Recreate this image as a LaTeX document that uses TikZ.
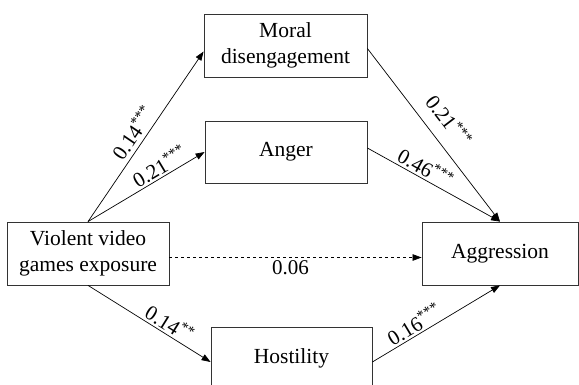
\documentclass[tikz,border=0pt]{standalone}
\usepackage{fontspec}
\setmainfont{Liberation Serif}
\usetikzlibrary{arrows.meta}
\tikzset{
  box/.style={draw=black!80, line width=0.8pt, fill=white, align=center, inner sep=0pt, font=\fontsize{21.5}{26}\selectfont},
  link/.style={draw=black, line width=0.7pt, -{Triangle[length=9pt,width=6.5pt]}},
  coef/.style={font=\fontsize{21}{24}\selectfont, sloped, above, inner sep=2pt}
}
\newcommand{\sig}[1]{\textsuperscript{#1}}
\begin{document}
\begin{tikzpicture}[x=1pt,y=-1pt]
\useasboundingbox (0,0) rectangle (579,385);
\clip (0,0) rectangle (579,385);
\node[box, minimum width=163pt, minimum height=63pt] (moral) at (285.5,45.5) {Moral\\disengagement};
\node[box, minimum width=162pt, minimum height=62pt] (anger) at (286,152) {Anger};
\node[box, minimum width=162pt, minimum height=63pt] (viol) at (88,253.5) {Violent video\\games exposure};
\node[box, minimum width=156pt, minimum height=63pt] (aggr) at (500,253.5) {Aggression};
\node[box, minimum width=161pt, minimum height=63pt] (host) at (291.5,358.5) {Hostility};

\draw[link] (viol.north) -- node[coef, pos=0.48, inner sep=4pt] {0.14\sig{***}} ([yshift=-6pt]moral.west);
\draw[link] (viol.north) -- node[coef, pos=0.66] {0.21\sig{***}} (anger.west);
\draw[link] ([yshift=-3pt]moral.east) -- node[coef, pos=0.49, inner sep=12pt] {0.21\sig{***}} (aggr.north);
\draw[link] ([yshift=4pt]anger.east) -- node[coef, pos=0.4] {0.46\sig{***}} (aggr.north);
\draw[link, dashed] ([yshift=-4pt]viol.east) -- node[font=\fontsize{21}{24}\selectfont, below, pos=0.48, inner sep=3pt] {0.06} ([yshift=-4pt]aggr.west);
\draw[link] (viol.south) -- node[coef, pos=0.62] {0.14\sig{**}} ([yshift=-3.5pt]host.west);
\draw[link] ([yshift=-3.5pt]host.east) -- node[coef, pos=0.37] {0.16\sig{***}} (aggr.south);
\end{tikzpicture}
\end{document}
